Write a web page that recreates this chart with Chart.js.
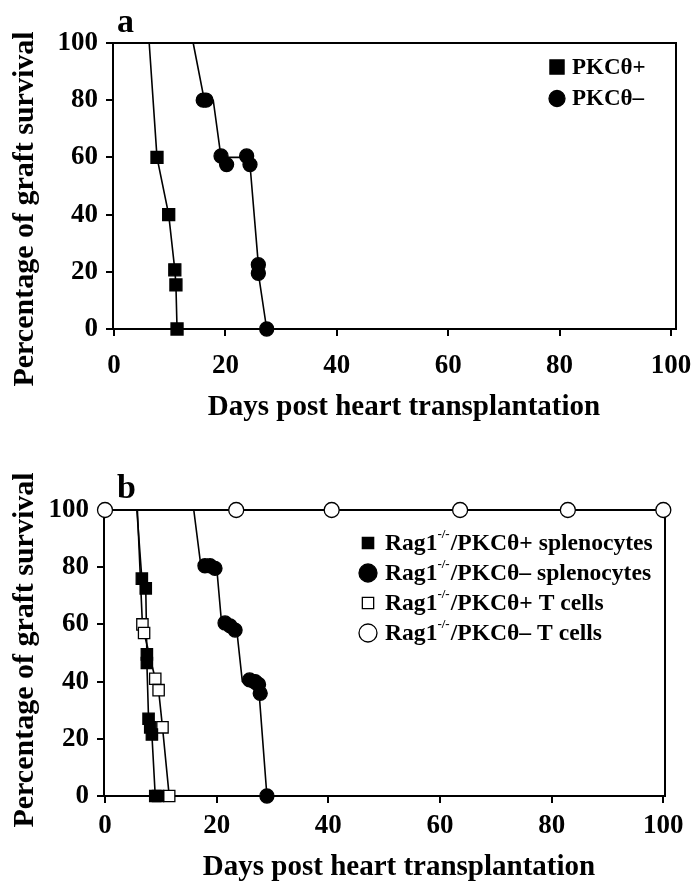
<!DOCTYPE html>
<html>
<head>
<meta charset="utf-8">
<script src="https://cdn.jsdelivr.net/npm/chart.js@4.4.1/dist/chart.umd.min.js"></script>
<style>
  body { margin: 0; background: #fff; }
  #wrap { position: relative; width: 698px; height: 890px; }
  .panel { position: absolute; left: 0; width: 698px; height: 445px; }
</style>
</head>
<body>
<div id="wrap">
  <div class="panel" style="top:0"><canvas id="chartA"></canvas></div>
  <div class="panel" style="top:445px"><canvas id="chartB"></canvas></div>
</div>
<script>
// axis ticks (both panels)
const tickDays = [0, 20, 40, 60, 80, 100];
const tickPercent = [0, 20, 40, 60, 80, 100];
const xTitle = 'Days post heart transplantation';
const yTitle = 'Percentage of graft survival';

// panel a
const aLabels = ['PKCθ+', 'PKCθ–'];
const aPlusDays = [7.7, 9.8, 10.9, 11.1, 11.3];
const aPlusPct = [60, 40, 20.7, 15.4, 0];
const aPlusLineDays = [6.3, 7.7, 9.8, 10.9, 11.1, 11.3];
const aPlusLinePct = [100, 60, 40, 20.7, 15.4, 0];
const aMinusDays = [16.0, 16.5, 19.2, 20.2, 23.8, 24.4, 25.9, 25.9, 27.4];
const aMinusPct = [80, 80, 60.5, 57.5, 60.5, 57.5, 22.5, 19.5, 0];
const aMinusLineDays = [14.2, 16.2, 17.8, 19.2, 24.0, 24.4, 25.9, 25.9, 27.4];
const aMinusLinePct = [100, 80, 80, 60, 60, 57.5, 22.5, 19.5, 0];

// panel b
const bLabels = [
  ['Rag1', '-/-', '/PKCθ+ splenocytes'],
  ['Rag1', '-/-', '/PKCθ– splenocytes'],
  ['Rag1', '-/-', '/PKCθ+ T cells'],
  ['Rag1', '-/-', '/PKCθ– T cells']
];
const bSplPlusDays = [6.6, 7.3, 7.5, 7.5, 7.8, 8.1, 8.4, 9.0, 9.5];
const bSplPlusPct = [76, 72.6, 49.5, 46.5, 27, 24, 21.5, 0, 0];
const bSplPlusLineDays = [5.7, 6.6, 7.3, 7.5, 7.5, 7.8, 8.4, 9.0];
const bSplPlusLinePct = [100, 76, 72.6, 49.5, 46.5, 27, 21.5, 0];
const bSplMinusDays = [17.9, 18.8, 19.7, 21.5, 22.4, 23.3, 25.9, 26.9, 27.5, 27.8, 29.0];
const bSplMinusPct = [80.5, 80.5, 79.6, 60.5, 59.5, 58, 40.6, 40, 39, 35.9, 0];
const bSplMinusLineDays = [15.9, 17.2, 20.0, 20.9, 23.6, 24.6, 27.6, 29.0, 35.0];
const bSplMinusLinePct = [100, 80, 80, 60, 58, 40, 36, 0, 0];
const bTPlusDays = [6.7, 7.0, 9.0, 9.6, 10.3, 11.5];
const bTPlusPct = [60, 57, 41, 37, 24, 0];
const bTPlusLineDays = [5.8, 6.7, 7.0, 9.0, 9.6, 10.3, 11.5];
const bTPlusLinePct = [100, 60, 57, 41, 37, 24, 0];
const bTMinusDays = [0, 23.5, 40.6, 63.6, 82.9, 100];
const bTMinusPct = [100, 100, 100, 100, 100, 100];

const zip = (xs, ys) => xs.map((x, i) => ({ x: x, y: ys[i] }));
const FONT = "'Liberation Serif', 'Times New Roman', serif";

function lineSet(xs, ys) {
  return {
    data: zip(xs, ys), showLine: true, pointRadius: 0, borderColor: '#000',
    borderWidth: 1.6, order: 1, clip: false
  };
}
function markSet(xs, ys, style, radius, fill) {
  return {
    data: zip(xs, ys), showLine: false, pointStyle: style, pointRadius: radius,
    pointBackgroundColor: fill, pointBorderColor: '#000', pointBorderWidth: 1.3,
    order: 0, clip: false
  };
}

// frame, panel letter, axis titles and legend
const panelText = {
  id: 'panelText',
  beforeDatasetsDraw(chart) {
    const a = chart.chartArea, ctx = chart.ctx;
    ctx.save();
    ctx.strokeStyle = '#000';
    ctx.lineWidth = 2;
    ctx.strokeRect(a.left, a.top, a.right - a.left, a.bottom - a.top);
    ctx.restore();
  },
  afterDraw(chart, args, o) {
    const ctx = chart.ctx;
    ctx.save();
    ctx.fillStyle = '#000';
    ctx.textBaseline = 'alphabetic';
    ctx.font = 'bold 34px ' + FONT;
    ctx.fillText(o.letter, o.letterX, o.letterY);

    ctx.font = 'bold 29px ' + FONT;
    ctx.textAlign = 'center';
    ctx.fillText(xTitle, o.xTitleX, o.xTitleY);
    ctx.save();
    ctx.font = 'bold 30px ' + FONT;
    ctx.translate(o.yTitleX, o.yTitleY);
    ctx.rotate(-Math.PI / 2);
    ctx.textBaseline = 'middle';
    ctx.fillText(yTitle, 0, 0);
    ctx.restore();

    // legend
    const lg = o.legend;
    ctx.textAlign = 'left';
    ctx.textBaseline = 'middle';
    lg.items.forEach((parts, i) => {
      const ds = chart.data.datasets[lg.sets[i]];
      const y = lg.y + i * lg.dy;
      ctx.fillStyle = ds.pointBackgroundColor;
      ctx.strokeStyle = '#000';
      ctx.lineWidth = 1.3;
      Chart.helpers.drawPoint(ctx, {
        pointStyle: ds.pointStyle, radius: lg.radius[i], rotation: 0, borderWidth: 1.3
      }, lg.x, y);
      ctx.fillStyle = '#000';
      let tx = lg.textX;
      if (typeof parts === 'string') parts = [parts];
      parts.forEach((p, k) => {
        const sup = k === 1;
        ctx.font = 'bold ' + (sup ? 13 : lg.size) + 'px ' + FONT;
        ctx.fillText(p, tx, sup ? y - 8 : y + 1);
        tx += ctx.measureText(p).width + (sup ? 1 : 0);
      });
    });
    ctx.restore();
  }
};

function makeChart(id, datasets, p) {
  const tickFont = { family: FONT, size: 27, weight: 'bold' };
  return new Chart(document.getElementById(id), {
    type: 'scatter',
    data: { datasets: datasets },
    plugins: [panelText],
    options: {
      responsive: true, maintainAspectRatio: false, animation: false, events: [],
      layout: { padding: { left: 0, top: p.top, right: p.right, bottom: 0 } },
      plugins: { legend: { display: false }, tooltip: { enabled: false }, panelText: p.text },
      scales: {
        x: {
          type: 'linear', min: p.xMin, max: p.xMax,
          afterBuildTicks: s => { s.ticks = tickDays.map(v => ({ value: v })); },
          afterFit: s => { s.height = p.xHeight; s.paddingLeft = 0; s.paddingRight = 0; },
          grid: { drawOnChartArea: false, drawTicks: true, tickLength: 7, color: '#000', lineWidth: 2 },
          border: { display: true, color: '#000', width: 2 },
          ticks: { color: '#000', font: tickFont, padding: p.xPad, maxRotation: 0 }
        },
        y: {
          type: 'linear', min: 0, max: 100,
          afterBuildTicks: s => { s.ticks = tickPercent.map(v => ({ value: v })); },
          afterFit: s => { s.width = p.yWidth; s.paddingTop = 0; s.paddingBottom = 0; },
          grid: { drawOnChartArea: false, drawTicks: true, tickLength: 7, color: '#000', lineWidth: 2 },
          border: { display: true, color: '#000', width: 2 },
          ticks: { color: '#000', font: tickFont, padding: 8 }
        }
      }
    }
  });
}

makeChart('chartA', [
  markSet(aPlusDays, aPlusPct, 'rect', 8.5, '#000'),
  markSet(aMinusDays, aMinusPct, 'circle', 7, '#000'),
  lineSet(aPlusLineDays, aPlusLinePct),
  lineSet(aMinusLineDays, aMinusLinePct)
], {
  top: 43, right: 22, xHeight: 116, yWidth: 113, xMin: -0.2, xMax: 100.9, xPad: 14,
  text: {
    letter: 'a', letterX: 117, letterY: 32,
    xTitleX: 404, xTitleY: 415, yTitleX: 25, yTitleY: 209,
    legend: { items: aLabels, sets: [0, 1], radius: [10, 8], x: 557, y: 67, dy: 31.5, textX: 572, size: 23 }
  }
});

makeChart('chartB', [
  markSet(bSplPlusDays, bSplPlusPct, 'rect', 8, '#000'),
  markSet(bSplMinusDays, bSplMinusPct, 'circle', 7, '#000'),
  markSet(bTPlusDays, bTPlusPct, 'rect', 8, '#fff'),
  markSet(bTMinusDays, bTMinusPct, 'circle', 7.5, '#fff'),
  lineSet(bSplPlusLineDays, bSplPlusLinePct),
  lineSet(bSplMinusLineDays, bSplMinusLinePct),
  lineSet(bTPlusLineDays, bTPlusLinePct),
  lineSet(bTMinusDays, bTMinusPct)
], {
  top: 65, right: 33, xHeight: 94, yWidth: 104, xMin: -0.18, xMax: 100.3, xPad: 7,
  text: {
    letter: 'b', letterX: 117, letterY: 53,
    xTitleX: 399, xTitleY: 430, yTitleX: 25, yTitleY: 205,
    legend: { items: bLabels, sets: [0, 1, 2, 3], radius: [8, 9, 8, 9], x: 368, y: 98, dy: 30, textX: 385, size: 23.6 }
  }
});
</script>
</body>
</html>
